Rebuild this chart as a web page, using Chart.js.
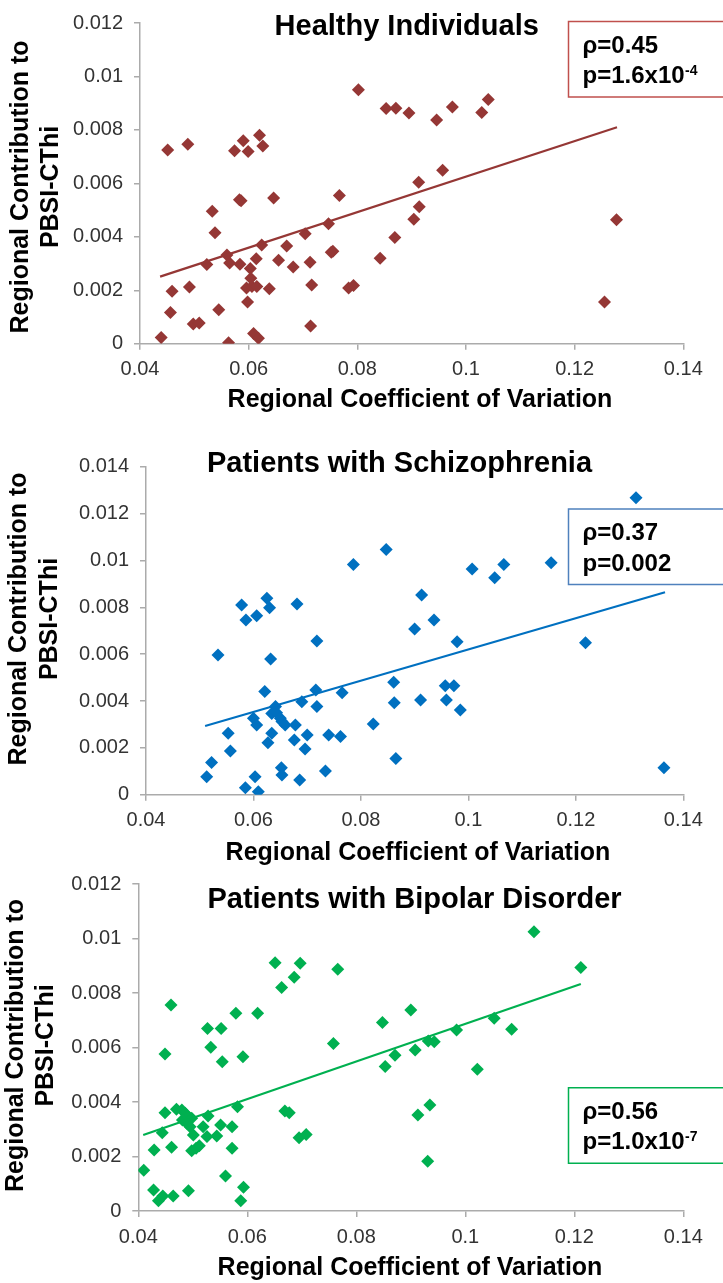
<!DOCTYPE html>
<html><head><meta charset="utf-8">
<script src="https://cdn.jsdelivr.net/npm/chart.js@4.4.1/dist/chart.umd.min.js"></script>
<style>
html,body{margin:0;padding:0;background:#fff;width:723px;height:1283px;overflow:hidden;}
.panel{position:absolute;left:0;}
canvas{display:block;}
</style></head><body>
<div class="panel" style="top:0px"><canvas id="c1" width="723" height="420"></canvas></div>
<div class="panel" style="top:420px"><canvas id="c2" width="723" height="450"></canvas></div>
<div class="panel" style="top:860px"><canvas id="c3" width="723" height="423"></canvas></div>
<script>
// ---------- data ----------
const xTicks = [0.04, 0.06, 0.08, 0.10, 0.12, 0.14];
const yTicksHealthy = [0, 0.002, 0.004, 0.006, 0.008, 0.010, 0.012];
const yTicksSchizo = [0, 0.002, 0.004, 0.006, 0.008, 0.010, 0.012, 0.014];
const yTicksBipolar = [0, 0.002, 0.004, 0.006, 0.008, 0.010, 0.012];

const healthyX = [0.0439,0.0451,0.0488,0.0459,0.0456,0.0491,0.0498,0.0509,0.0523,0.0533,0.0538,0.0545,0.0563,0.0560,0.0565,0.0574,0.0583,0.0586,0.0584,0.0590,0.0599,0.0596,0.0598,0.0603,0.0604,0.0606,0.0620,0.0626,0.0614,0.0624,0.0615,0.0609,0.0618,0.0638,0.0646,0.0655,0.0670,0.0682,0.0704,0.0713,0.0716,0.0714,0.0747,0.0752,0.0755,0.0767,0.0784,0.0793,0.0802,
  0.0853,0.0871,0.0895,0.0946,0.0975,0.1029,0.1041,0.0957,0.0913,0.0914,0.0904,0.0869,0.0842,0.1277,0.1255];
const healthyY = [0.00023,0.00725,0.00746,0.00196,0.00117,0.00212,0.00074,0.00077,0.00296,0.00496,0.00415,0.00127,0.00004,0.00332,0.00302,0.00722,0.00539,0.00535,0.00297,0.00759,0.00719,0.00208,0.00156,0.00281,0.00245,0.00214,0.0078,0.0074,0.00318,0.00369,0.00214,0.00038,0.0002,0.00206,0.00545,0.00312,0.00366,0.00287,0.00411,0.00305,0.0022,0.00066,0.00449,0.00342,0.00346,0.00555,0.00208,0.00218,0.0095,
  0.0088,0.00881,0.00863,0.00837,0.00886,0.00865,0.00914,0.00649,0.00604,0.00512,0.00466,0.00397,0.0032,0.00464,0.00156];
const healthyFitX = [0.0437, 0.1278];
const healthyFitY = [0.00251, 0.0081];

const schizoX = [0.0513,0.0522,0.0534,0.0553,0.0557,0.0578,0.0586,0.0606,0.0585,0.0603,0.0609,0.0600,0.0606,0.0621,0.0625,0.0630,0.0632,0.0627,0.0634,0.0641,0.0634,0.0643,0.0650,0.0653,0.0659,0.0652,0.0653,0.0681,0.0678,0.0676,0.0686,0.0690,0.0700,0.0696,0.0718,0.0716,0.0718,0.0740,0.0734,0.0762,0.0765,0.0786,
  0.0847,0.1007,0.1049,0.1066,0.1154,0.1312,0.0913,0.0936,0.0900,0.0979,0.1218,0.0861,0.0862,0.0823,0.0911,0.0957,0.0973,0.0959,0.0985,0.0865,0.1364];
const schizoY = [0.00077,0.00137,0.00596,0.00262,0.00187,0.0081,0.00746,0.00764,0.0003,0.00077,0.00013,0.00326,0.00297,0.0044,0.00838,0.00798,0.00579,0.00222,0.00262,0.00376,0.00347,0.0035,0.00326,0.00312,0.00297,0.00115,0.00084,0.00814,0.00297,0.00233,0.00063,0.00397,0.00255,0.00195,0.00656,0.00447,0.00376,0.00255,0.00101,0.00248,0.00435,0.00983,
  0.01047,0.00963,0.00926,0.00983,0.0099,0.01268,0.00852,0.00746,0.00707,0.00653,0.00649,0.0048,0.00393,0.00302,0.00404,0.00465,0.00465,0.00404,0.00361,0.00155,0.00115];
const schizoFitX = [0.0510, 0.1366];
const schizoFitY = [0.00293, 0.00864];

const bipolarX = [0.0410,0.0428,0.0437,0.0445,0.0464,0.0492,0.0429,0.0444,0.0449,0.0461,0.0449,0.0460,0.0470,0.0480,0.0486,0.0492,0.0481,0.0489,0.0498,0.0495,0.0501,0.0498,0.0512,0.0506,0.0519,0.0526,0.0528,0.0527,0.0533,0.0552,0.0554,0.0544,0.0551,0.0572,0.0572,0.0560,0.0579,0.0582,0.0592,0.0593,0.0588,0.0619,0.0651,0.0697,0.0663,0.0686,0.0669,0.0677,0.0695,0.0708,0.0758,0.0766,
  0.0848,0.0900,0.0853,0.0871,0.0908,0.0932,0.0943,0.0984,0.1053,0.1085,0.1022,0.0935,0.0913,0.0931,0.1126,0.1212];
const bipolarY = [0.0015,0.00077,0.00038,0.00055,0.00055,0.00074,0.00224,0.00287,0.00361,0.00234,0.00576,0.00756,0.00373,0.00371,0.00359,0.00346,0.00334,0.00322,0.0034,0.00309,0.00279,0.00221,0.00239,0.0023,0.00309,0.00273,0.00349,0.0067,0.00601,0.0067,0.00548,0.00275,0.00316,0.00309,0.0023,0.00128,0.00726,0.00383,0.00566,0.00087,0.00038,0.00726,0.00911,0.00909,0.0082,0.00858,0.00367,0.00361,0.00269,0.00281,0.00615,0.00887,
  0.00692,0.00738,0.0053,0.00572,0.00591,0.00624,0.00621,0.00664,0.00707,0.00667,0.0052,0.00389,0.00352,0.00183,0.01025,0.00894];
const bipolarFitX = [0.0409, 0.1212];
const bipolarFitY = [0.00279, 0.00833];

const panelTitles = ['Healthy Individuals', 'Patients with Schizophrenia', 'Patients with Bipolar Disorder'];
const xAxisTitle = 'Regional Coefficient of Variation';
const yAxisTitle = ['Regional Contribution to', 'PBSI-CThi'];
const rhoLabels = ['ρ=0.45', 'ρ=0.37', 'ρ=0.56'];
const pLabels = ['p=1.6x10', 'p=0.002', 'p=1.0x10'];
const pExponents = ['-4', '', '-7'];

// ---------- drawing ----------
const FONT = "'Liberation Sans', Arial, Helvetica, sans-serif";
Chart.defaults.font.family = FONT;
const AXIS = '#ABABAB';
const fmt = v => String(parseFloat(Number(v).toFixed(4)));
const pts = (xs, ys) => xs.map((x, i) => ({x: x, y: ys[i]}));

function makePanel(id, g, xs, ys, fx, fy, yTicks, color, boxColor, idx) {
  const overlay = {
    id: 'overlay' + idx,
    afterDraw(chart) {
      const c = chart.ctx;
      c.save();
      c.fillStyle = '#000';
      c.textBaseline = 'alphabetic';
      // panel title
      c.font = 'bold 29px ' + FONT;
      c.textAlign = 'center';
      c.fillText(panelTitles[idx], g.titleX, g.titleY);
      // x axis title
      c.font = 'bold 25px ' + FONT;
      c.fillText(xAxisTitle, g.xtX, g.xtY);
      // y axis title (rotated)
      for (let k = 0; k < yAxisTitle.length; k++) {
        c.save();
        c.translate(g.ytX[k], g.ytY);
        c.rotate(-Math.PI / 2);
        c.fillText(yAxisTitle[k], 0, 0);
        c.restore();
      }
      // stats box
      c.strokeStyle = boxColor;
      c.lineWidth = 1.5;
      c.fillStyle = '#fff';
      c.beginPath();
      c.rect(g.boxL, g.boxT, 200, 75.5);
      c.fill();
      c.stroke();
      c.fillStyle = '#000';
      c.textAlign = 'left';
      c.font = 'bold 24px ' + FONT;
      c.fillText(rhoLabels[idx], g.boxL + 14, g.boxT + 31);
      c.fillText(pLabels[idx], g.boxL + 14, g.boxT + 61.5);
      if (pExponents[idx]) {
        const w = c.measureText(pLabels[idx]).width;
        c.font = 'bold 14px ' + FONT;
        c.fillText(pExponents[idx], g.boxL + 14 + w + 0.5, g.boxT + 53);
      }
      c.restore();
    }
  };
  const H = document.getElementById(id).height;
  return new Chart(document.getElementById(id), {
    type: 'scatter',
    data: {
      datasets: [
        {
          type: 'line', data: pts(fx, fy), borderColor: color, borderWidth: 2.2,
          pointRadius: 0, fill: false, tension: 0, order: 0
        },
        {
          type: 'scatter', data: pts(xs, ys), pointStyle: 'rectRot', pointRadius: 6.5,
          backgroundColor: color, borderColor: color, borderWidth: 0, order: 1
        }
      ]
    },
    options: {
      responsive: false,
      animation: false,
      events: [],
      layout: { padding: { left: 0, top: g.top, right: 723 - g.right, bottom: 0 } },
      plugins: { legend: { display: false }, tooltip: { enabled: false }, title: { display: false } },
      scales: {
        x: {
          type: 'linear', min: xTicks[0], max: xTicks[xTicks.length - 1],
          afterBuildTicks: s => { s.ticks = xTicks.map(v => ({value: v})); },
          afterFit: s => { s.height = H - g.bottom; },
          ticks: { font: { size: 20 }, color: '#333', padding: 8, callback: fmt, maxRotation: 0, autoSkip: false },
          grid: { drawOnChartArea: false, drawTicks: true, tickLength: 6, color: AXIS, lineWidth: 1.5 },
          border: { display: true, color: AXIS, width: 1.5 }
        },
        y: {
          type: 'linear', min: yTicks[0], max: yTicks[yTicks.length - 1],
          afterBuildTicks: s => { s.ticks = yTicks.map(v => ({value: v})); },
          afterFit: s => { s.width = g.left; },
          ticks: { font: { size: 20 }, color: '#333', padding: 11, callback: fmt, autoSkip: false },
          grid: { drawOnChartArea: false, drawTicks: true, tickLength: 6, color: AXIS, lineWidth: 1.5 },
          border: { display: true, color: AXIS, width: 1.5 }
        }
      }
    },
    plugins: [overlay]
  });
}

makePanel('c1', {left: 140, right: 683.3, top: 15, bottom: 343.7,
  titleX: 406.7, titleY: 35, xtX: 420, xtY: 406.7, ytX: [28, 58], ytY: 187,
  boxL: 568.5, boxT: 21.5},
  healthyX, healthyY, healthyFitX, healthyFitY, yTicksHealthy, '#953735', '#C0504D', 0);

makePanel('c2', {left: 146, right: 683.3, top: 46.7, bottom: 374.7,
  titleX: 399.5, titleY: 51.7, xtX: 418, xtY: 440, ytX: [25.7, 56.7], ytY: 199,
  boxL: 568.5, boxT: 89},
  schizoX, schizoY, schizoFitX, schizoFitY, yTicksSchizo, '#0070C0', '#4F81BD', 1);

makePanel('c3', {left: 138.3, right: 683.3, top: 24, bottom: 351,
  titleX: 414.5, titleY: 48.3, xtX: 410, xtY: 415, ytX: [23.3, 53.3], ytY: 185.5,
  boxL: 568.5, boxT: 227.7},
  bipolarX, bipolarY, bipolarFitX, bipolarFitY, yTicksBipolar, '#00B050', '#00B050', 2);
</script>
</body></html>
